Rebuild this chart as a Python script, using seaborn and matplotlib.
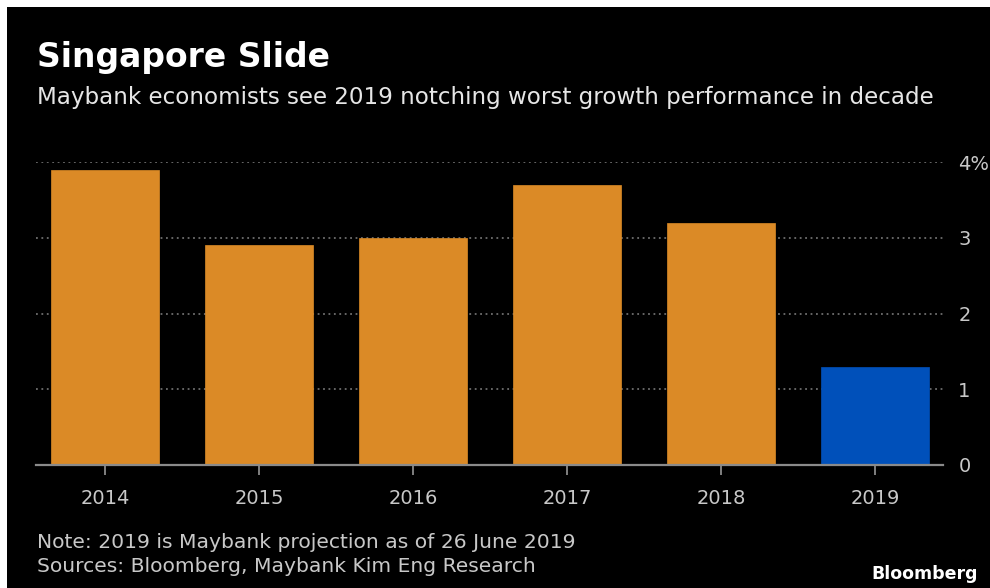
import matplotlib
matplotlib.use("Agg")
import matplotlib.pyplot as plt
from matplotlib.patches import Rectangle
import seaborn as sns
import pandas as pd

# ---- data ----
years = ["2014", "2015", "2016", "2017", "2018", "2019"]
growth = [3.9, 2.9, 3.0, 3.7, 3.2, 1.3]
kind = ["actual", "actual", "actual", "actual", "actual", "projection"]
ytick_vals = [0, 1, 2, 3, 4]
ytick_labels = ["0", "1", "2", "3", "4%"]

title = "Singapore Slide"
subtitle = "Maybank economists see 2019 notching worst growth performance in decade"
note1 = "Note: 2019 is Maybank projection as of 26 June 2019"
note2 = "Sources: Bloomberg, Maybank Kim Eng Research"
brand = "Bloomberg"

df = pd.DataFrame({"year": years, "growth": growth, "kind": kind})

sns.set_theme(style="dark")
plt.rcParams["font.family"] = ["DejaVu Sans"]

W, H = 990, 588
fig = plt.figure(figsize=(W / 100, H / 100), dpi=100, facecolor="white")
fig.patches.append(Rectangle((7 / W, 0), 1 - 7 / W, 1 - 7 / H, transform=fig.transFigure,
                             facecolor="black", edgecolor="none", zorder=-10))

ax = fig.add_axes([36 / W, 1 - 465 / H, (943 - 36) / W, (465 - 162) / H])
ax.set_facecolor("black")

palette = {"actual": "#DB8A26", "projection": "#0050BA"}
sns.barplot(data=df, x="year", y="growth", hue="kind", palette=palette, dodge=False,
            width=0.7, legend=False, ax=ax, saturation=1, linewidth=0, zorder=3)
for p in ax.patches:
    p.set_edgecolor(p.get_facecolor())
    p.set_linewidth(0.5)

ax.set_xlim(-0.45, 5.44)
ax.set_ylim(0, 4)
ax.set_xlabel("")
ax.set_ylabel("")

for s in ["top", "left", "right"]:
    ax.spines[s].set_visible(False)
ax.spines["bottom"].set_color("#8a8a8a")
ax.spines["bottom"].set_linewidth(1.6)
ax.spines["bottom"].set_zorder(4)

ax.yaxis.tick_right()
ax.set_yticks(ytick_vals)
ax.set_yticklabels(ytick_labels)
ax.grid(False)
for v in ytick_vals[1:]:
    ax.axhline(v, color="#6e6e6e", linestyle=(0, (1, 2.0)), linewidth=1.3, zorder=1)

ax.tick_params(axis="y", length=0, pad=11, labelsize=14, labelcolor="#c8c8c8")
ax.tick_params(axis="x", length=7, width=1.3, color="#8a8a8a", pad=10, labelsize=14,
               labelcolor="#c8c8c8", bottom=True)

fig.text(37 / W, 1 - 67 / H, title, color="white", fontsize=23.8, fontweight="bold",
         ha="left", va="baseline")
fig.text(37 / W, 1 - 104 / H, subtitle, color="#e6e6e6", fontsize=16.6,
         ha="left", va="baseline")
fig.text(37 / W, 1 - 548 / H, note1, color="#c8c8c8", fontsize=14.6, ha="left", va="baseline")
fig.text(37 / W, 1 - 572 / H, note2, color="#c8c8c8", fontsize=14.6, ha="left", va="baseline")
fig.text(978 / W, 1 - 579 / H, brand, color="white", fontsize=12.5, fontweight="bold",
         ha="right", va="baseline")

fig.savefig("out.png", dpi=100, facecolor=fig.get_facecolor())
